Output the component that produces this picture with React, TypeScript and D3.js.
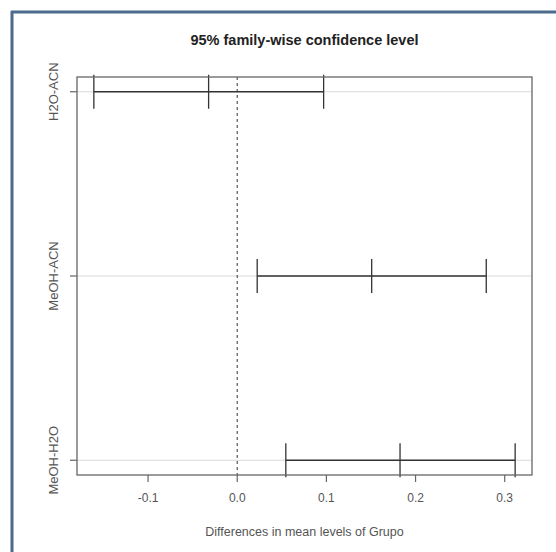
import React from "react";
import * as d3 from "d3";

const comparisons = ["H2O-ACN", "MeOH-ACN", "MeOH-H2O"];
const diffValues = [-0.0321, 0.1508, 0.1826];
const lowerValues = [-0.1608, 0.0224, 0.0545];
const upperValues = [0.0969, 0.2793, 0.3117];
const xTicks = [-0.1, 0.0, 0.1, 0.2, 0.3];
const titleText = "95% family-wise confidence level";
const xTitle = "Differences in mean levels of Grupo";

export default function App() {
  const W = 556, H = 552;
  const left = 77, right = 532, top = 77, bottom = 475;
  const k = comparisons.length;
  const allX = [...lowerValues, ...upperValues];
  const xmin = d3.min(allX)!, xmax = d3.max(allX)!;
  const xpad = (xmax - xmin) * 0.04;
  const x = d3.scaleLinear().domain([xmin - xpad, xmax + xpad]).range([left, right]);
  const ypad = (k - 1) * 0.04;
  const y = d3.scaleLinear().domain([1 - ypad, k + ypad]).range([bottom, top]);
  const yv = (i: number) => y(k - i);
  const ink = "#333";
  const font = "Liberation Sans, Arial, sans-serif";
  const fmt = (t: number) => d3.format(".1f")(t).replace("\u2212", "-");
  return (
    <svg width={W} height={H} style={{ position: "absolute", left: 0, top: 0, background: "#fff" }}>
      <rect x={0} y={0} width={W} height={H} fill="#fff" />
      {/* frame */}
      <line x1={11} y1={12} x2={W} y2={12} stroke="#4d6b8e" strokeWidth={3} />
      <line x1={12} y1={11} x2={12} y2={H} stroke="#4d6b8e" strokeWidth={3} />
      {/* grid lines */}
      {comparisons.map((c, i) => (
        <line key={"g" + c} x1={left} x2={right} y1={yv(i)} y2={yv(i)} stroke="#d9d9d9" strokeWidth={1} />
      ))}
      {/* zero line */}
      <line x1={x(0)} x2={x(0)} y1={top} y2={bottom} stroke="#555" strokeWidth={1.2} strokeDasharray="3,3" />
      {/* intervals */}
      {comparisons.map((c, i) => {
        const yy = yv(i);
        return (
          <g key={"i" + c} stroke={ink} strokeWidth={1.3}>
            <line x1={x(lowerValues[i])} x2={x(upperValues[i])} y1={yy} y2={yy} />
            {[lowerValues[i], diffValues[i], upperValues[i]].map((v, j) => (
              <line key={j} x1={x(v)} x2={x(v)} y1={yy - 17} y2={yy + 17} />
            ))}
          </g>
        );
      })}
      {/* box */}
      <rect x={left} y={top} width={right - left} height={bottom - top} fill="none" stroke="#666" strokeWidth={1.3} />
      {/* x axis */}
      {xTicks.map((t) => (
        <g key={"x" + t}>
          <line x1={x(t)} x2={x(t)} y1={bottom} y2={bottom + 7} stroke="#666" strokeWidth={1.2} />
          <text x={x(t)} y={502} textAnchor="middle" fontFamily={font} fontSize={12} fill="#555">
            {fmt(t)}
          </text>
        </g>
      ))}
      {/* y axis */}
      {comparisons.map((c, i) => (
        <g key={"y" + c}>
          <line x1={left - 7} x2={left} y1={yv(i)} y2={yv(i)} stroke="#666" strokeWidth={1.2} />
          <text
            transform={`translate(58,${yv(i)}) rotate(-90)`}
            textAnchor="middle"
            fontFamily={font}
            fontSize={13}
            fill="#555"
          >
            {c}
          </text>
        </g>
      ))}
      <text x={(left + right) / 2} y={45} textAnchor="middle" fontFamily={font} fontSize={14.5} fontWeight="bold" fill="#222">
        {titleText}
      </text>
      <text x={(left + right) / 2} y={536} textAnchor="middle" fontFamily={font} fontSize={12.5} fill="#555">
        {xTitle}
      </text>
    </svg>
  );
}
